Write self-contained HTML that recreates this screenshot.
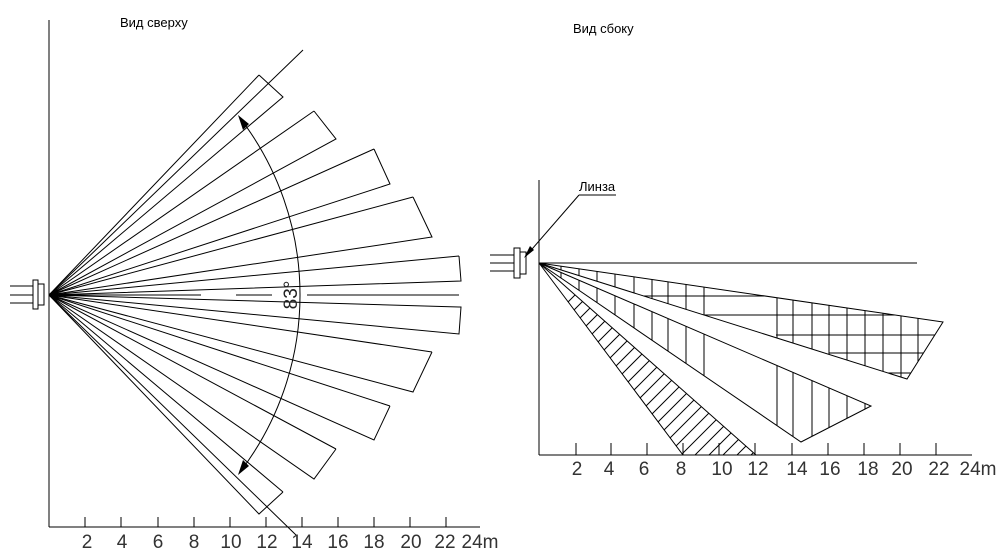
<!DOCTYPE html>
<html><head><meta charset="utf-8"><style>
html,body{margin:0;padding:0;background:#fff;}
svg{display:block;}
.t{font-family:"Liberation Sans","DejaVu Sans",sans-serif;font-size:13px;fill:#000;}
.n{font-family:"Liberation Sans",sans-serif;font-size:19px;fill:#333;text-anchor:middle;}
</style></head><body>
<svg width="999" height="553" viewBox="0 0 999 553" xmlns="http://www.w3.org/2000/svg">
<defs>
<clipPath id="far"><polygon points="539,263 943,322 907,379"/></clipPath>
<clipPath id="mid"><polygon points="539,263 871,406 801,442"/></clipPath>
<clipPath id="near"><polygon points="539,263 756,455 683,455"/></clipPath>
</defs>
<g stroke="#000" stroke-width="1" fill="none">
<!-- LEFT -->
<line x1="49" y1="20" x2="49" y2="527"/>
<line x1="49" y1="527" x2="480" y2="527"/>
<g>
<line x1="85" y1="517" x2="85" y2="527"/><line x1="121" y1="517" x2="121" y2="527"/><line x1="158" y1="517" x2="158" y2="527"/><line x1="194" y1="517" x2="194" y2="527"/><line x1="230" y1="517" x2="230" y2="527"/><line x1="266" y1="517" x2="266" y2="527"/><line x1="302" y1="517" x2="302" y2="527"/><line x1="338" y1="517" x2="338" y2="527"/><line x1="374" y1="517" x2="374" y2="527"/><line x1="410" y1="517" x2="410" y2="527"/><line x1="446" y1="517" x2="446" y2="527"/>
</g>
<rect x="33" y="280" width="5" height="29"/><rect x="38" y="284" width="6" height="21"/>
<line x1="10" y1="286" x2="33" y2="286"/><line x1="10" y1="295" x2="33" y2="295"/><line x1="10" y1="303" x2="33" y2="303"/>
<polyline points="259,75 49,295 283,97 259,75"/>
<polyline points="314,111 49,295 336,139 314,111"/>
<polyline points="374,149 49,295 390,184 374,149"/>
<polyline points="413,197 49,295 432,237 413,197"/>
<polyline points="459,256 49,295 461,281 459,256"/>
<polyline points="459,307 49,295 459,334 461,307 459,307"/>
<polyline points="432,352 49,295 413,392 432,352"/>
<polyline points="390,406 49,295 374,440 390,406"/>
<polyline points="336,449 49,295 314,479 336,449"/>
<polyline points="283,492 49,295 259,514 283,492"/>
<line x1="49" y1="295" x2="303" y2="50"/>
<line x1="49" y1="295" x2="296" y2="535"/>
<line x1="49" y1="295" x2="201" y2="295"/><line x1="236" y1="295" x2="272" y2="295"/><line x1="307" y1="295" x2="459" y2="295"/>
<path d="M240,118 A291,291 0 0 1 240,472"/>
</g>
<polygon points="238,115 249,124 243,130" fill="#000"/>
<polygon points="238,475 249,466 243,460" fill="#000"/>
<text class="t" x="120" y="27">Вид сверху</text>
<text class="t" x="573" y="33">Вид сбоку</text>
<text x="0" y="0" transform="translate(297,295) rotate(-90)" style="font-family:'Liberation Sans',sans-serif;font-size:19px;fill:#222;text-anchor:middle">83°</text>
<g class="n">
<text x="87" y="548">2</text><text x="122" y="548">4</text><text x="158" y="548">6</text><text x="194" y="548">8</text><text x="231" y="548">10</text><text x="267" y="548">12</text><text x="302" y="548">14</text><text x="338" y="548">16</text><text x="374" y="548">18</text><text x="411" y="548">20</text><text x="445" y="548">22</text><text x="480" y="548">24m</text>
</g>
<!-- RIGHT -->
<g stroke="#000" stroke-width="1" fill="none">
<line x1="539" y1="180" x2="539" y2="455"/>
<line x1="539" y1="455" x2="972" y2="455"/>
<line x1="539" y1="263" x2="917" y2="263"/>
<line x1="576" y1="443" x2="576" y2="455"/><line x1="611" y1="443" x2="611" y2="455"/><line x1="647" y1="443" x2="647" y2="455"/><line x1="683" y1="443" x2="683" y2="455"/><line x1="719" y1="443" x2="719" y2="455"/><line x1="755" y1="443" x2="755" y2="455"/><line x1="792" y1="443" x2="792" y2="455"/><line x1="828" y1="443" x2="828" y2="455"/><line x1="864" y1="443" x2="864" y2="455"/><line x1="900" y1="443" x2="900" y2="455"/><line x1="936" y1="443" x2="936" y2="455"/>
<rect x="514" y="248" width="6" height="30"/><rect x="520" y="252" width="6" height="22"/>
<line x1="490" y1="255" x2="514" y2="255"/><line x1="490" y1="263" x2="514" y2="263"/><line x1="490" y1="271" x2="514" y2="271"/>
<line x1="579" y1="195" x2="616" y2="195"/>
<line x1="579" y1="195" x2="526" y2="256"/>
<polygon points="539,263 943,322 907,379"/>
<polygon points="539,263 871,406 801,442"/>
<polygon points="539,263 756,455 683,455"/>
<g clip-path="url(#far)">
<path d="M561,260V460M579,260V460M597,260V460M615,260V460M634,260V460M652,260V460M668,260V460M686,260V460M704,260V460M777,260V460M793,260V460M812,260V460M829,260V460M847,260V460M865,260V460M883,260V460M901,260V460M918,260V460"/>
<path d="M642,296H950M642,315H950M776,335H950M829,353H950M883,373H950"/>
</g>
<g clip-path="url(#mid)">
<path d="M561,260V460M579,260V460M597,260V460M615,260V460M634,260V460M652,260V460M668,260V460M686,260V460M704,260V460M777,260V460M793,260V460M812,260V460M829,260V460M847,260V460M865,260V460"/>
</g>
<g clip-path="url(#near)">
<path d="M540,330l40,-40M540,344l60,-60M540,358l80,-80M540,372l100,-100M540,386l120,-120M540,400l140,-140M540,414l160,-160M540,428l180,-180M540,442l200,-200M540,456l220,-220M554,456l220,-220M568,456l220,-220M582,456l220,-220M596,456l220,-220M610,456l220,-220M624,456l220,-220M638,456l220,-220M652,456l220,-220M666,456l220,-220M680,456l220,-220M694,456l220,-220M708,456l220,-220M722,456l220,-220M736,456l220,-220M750,456l220,-220"/>
</g>
</g>
<polygon points="524,258 530,246 534,250" fill="#000"/>
<text class="t" x="579" y="191">Линза</text>
<g class="n">
<text x="577" y="475">2</text><text x="609" y="475">4</text><text x="644" y="475">6</text><text x="681" y="475">8</text><text x="722" y="475">10</text><text x="758" y="475">12</text><text x="797" y="475">14</text><text x="830" y="475">16</text><text x="868" y="475">18</text><text x="902" y="475">20</text><text x="939" y="475">22</text><text x="978" y="475">24m</text>
</g>
</svg>
</body></html>
